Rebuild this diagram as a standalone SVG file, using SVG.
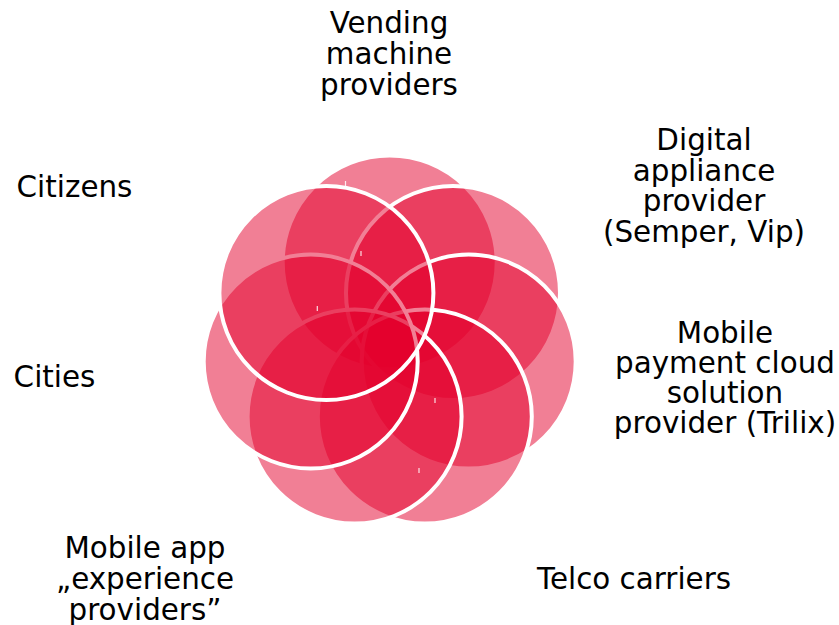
<svg xmlns="http://www.w3.org/2000/svg" width="839" height="625" viewBox="0 0 839 625">
<style>
.c{fill:#E4002B;fill-opacity:0.5;stroke:#FFFFFF;stroke-width:4}
.t{font-family:"DejaVu Sans","Liberation Sans",sans-serif;font-size:29.4px;fill:#000000;text-anchor:middle}
.k{stroke:#FFFFFF;stroke-width:1.2;stroke-opacity:0.85}
</style>
<rect x="0" y="0" width="839" height="625" fill="#FFFFFF"/>
<g id="flower">
<circle id="c1" class="c" cx="389.7" cy="262.5" r="107"/>
<circle id="c2" class="c" cx="453.0" cy="293.0" r="107"/>
<circle id="c3" class="c" cx="468.7" cy="361.5" r="107"/>
<circle id="c4" class="c" cx="424.8" cy="416.5" r="107"/>
<circle id="c5" class="c" cx="354.6" cy="416.5" r="107"/>
<circle id="c6" class="c" cx="310.7" cy="361.5" r="107"/>
<circle id="c7" class="c" cx="326.4" cy="293.0" r="107"/>
</g>
<g id="ticks">
<line class="k" x1="345.5" y1="181" x2="345.5" y2="186"/>
<line class="k" x1="361" y1="251" x2="361" y2="256"/>
<line class="k" x1="317.3" y1="306" x2="317.3" y2="311"/>
<line class="k" x1="435" y1="398" x2="435" y2="403"/>
<line class="k" x1="419" y1="468" x2="419" y2="473"/>
</g>
<g id="labels">
<g id="n-vending"><text class="t" x="389" y="33">Vending</text><text class="t" x="389" y="64">machine</text><text class="t" x="389" y="95">providers</text></g>
<g id="n-digital"><text class="t" x="704" y="150">Digital</text><text class="t" x="704" y="180.5">appliance</text><text class="t" x="704" y="211">provider</text><text class="t" x="704" y="241.5">(Semper, Vip)</text></g>
<g id="n-mobilepay"><text class="t" x="725" y="343">Mobile</text><text class="t" x="725" y="373">payment cloud</text><text class="t" x="725" y="403">solution</text><text class="t" x="725" y="433">provider (Trilix)</text></g>
<g id="n-telco"><text class="t" x="634" y="589">Telco carriers</text></g>
<g id="n-mobileapp"><text class="t" x="145" y="558">Mobile app</text><text class="t" x="145" y="589">„experience</text><text class="t" x="145" y="620">providers”</text></g>
<g id="n-cities"><text class="t" x="54.5" y="387">Cities</text></g>
<g id="n-citizens"><text class="t" x="74.5" y="197">Citizens</text></g>
</g>
</svg>
